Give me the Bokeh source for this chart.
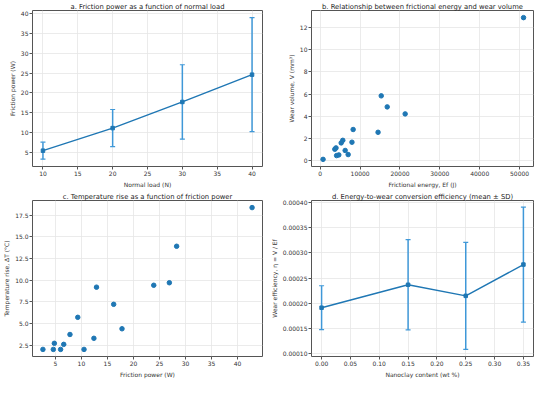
from bokeh.plotting import figure
from bokeh.layouts import gridplot
from bokeh.models import FixedTicker, PrintfTickFormatter, Range1d
from bokeh.embed import file_html
from bokeh.resources import INLINE

# Panel a
load_n = [10, 20, 30, 40]
power_mean = [5.4, 11.1, 17.7, 24.6]
power_sd = [2.15, 4.7, 9.4, 14.4]

# Panel b
energy_j = [51000, 15300, 16800, 21300, 14500, 8250, 7950, 5650, 5250, 6250, 7000, 3650, 3950, 4100, 4650, 700]
wear_mm3 = [12.86, 5.84, 4.85, 4.22, 2.57, 2.82, 1.68, 1.85, 1.62, 0.94, 0.57, 1.05, 1.17, 0.48, 0.54, 0.14]

# Panel c
fric_power_w = [42.8, 28.3, 26.9, 23.9, 12.9, 16.2, 9.3, 17.8, 7.8, 12.4, 4.8, 6.6, 2.6, 4.6, 6.0, 10.5]
temp_rise_c = [18.38, 13.92, 9.71, 9.42, 9.20, 7.22, 5.72, 4.40, 3.74, 3.30, 2.72, 2.60, 2.02, 2.02, 2.02, 2.02]

# Panel d
clay_wt = [0.00, 0.15, 0.25, 0.35]
eff_mean = [0.0001915, 0.000237, 0.000215, 0.000277]
eff_sd = [0.0000435, 0.0000895, 0.000106, 0.000114]

BLUE = "#1f77b4"
ERR = "#3f98d8"
FONT = "DejaVu Sans"


def make_fig(title, xlabel, ylabel, xr, yr, xticks, yticks, xfmt=None, yfmt=None):
    p = figure(width=267, height=190, output_backend="svg", toolbar_location=None,
               x_range=Range1d(*xr), y_range=Range1d(*yr),
               min_border_left=2, min_border_right=5, min_border_top=1, min_border_bottom=1)
    p.title.text = title
    p.title.align = "center"
    p.title.text_font = FONT
    p.title.text_font_size = "6.8px"
    p.title.text_font_style = "normal"
    p.title.text_color = "#222222"
    p.title.standoff = 0
    p.outline_line_color = "#555555"
    p.outline_line_width = 1
    p.background_fill_color = "white"
    p.border_fill_color = "white"
    for ax, lab, ticks, fmt in ((p.xaxis[0], xlabel, xticks, xfmt), (p.yaxis[0], ylabel, yticks, yfmt)):
        ax.axis_label = lab
        ax.axis_label_text_font = FONT
        ax.axis_label_text_font_size = "6px"
        ax.axis_label_text_font_style = "normal"
        ax.axis_label_text_color = "#333333"
        ax.axis_label_standoff = 2
        ax.major_label_text_font = FONT
        ax.major_label_text_font_size = "6px"
        ax.major_label_text_color = "#333333"
        ax.major_label_standoff = 1
        ax.ticker = FixedTicker(ticks=ticks)
        ax.minor_tick_line_color = None
        ax.major_tick_out = 3
        ax.major_tick_in = 0
        ax.major_tick_line_color = "#555555"
        ax.axis_line_color = None
        if fmt:
            ax.formatter = PrintfTickFormatter(format=fmt)
    p.grid.grid_line_color = "#e6e6e6"
    p.grid.grid_line_width = 0.8
    p.grid[0].ticker = FixedTicker(ticks=xticks)
    p.grid[1].ticker = FixedTicker(ticks=yticks)
    return p


def errorbars(p, x, mean, sd, cap=5):
    lo = [m - s for m, s in zip(mean, sd)]
    hi = [m + s for m, s in zip(mean, sd)]
    p.line(x, mean, line_color=BLUE, line_width=1.4)
    p.segment(x0=x, y0=lo, x1=x, y1=hi, line_color=ERR, line_width=1.5)
    p.scatter(x, lo, marker="dash", size=cap, line_color=ERR, line_width=1.2)
    p.scatter(x, hi, marker="dash", size=cap, line_color=ERR, line_width=1.2)
    p.scatter(x, mean, marker="square", size=3.5, fill_color=BLUE, line_color=BLUE)


pa = make_fig("a. Friction power as a function of normal load", "Normal load (N)",
              "Friction power (W)", (8.5, 41.5), (1.4, 40.8),
              [10, 15, 20, 25, 30, 35, 40], [5, 10, 15, 20, 25, 30, 35, 40])
errorbars(pa, load_n, power_mean, power_sd)

pb = make_fig("b. Relationship between frictional energy and wear volume", "Frictional energy, Ef (J)",
              "Wear volume, V (mm³)", (-2200, 53500), (-0.5, 13.5),
              [0, 10000, 20000, 30000, 40000, 50000], [0, 2, 4, 6, 8, 10, 12])
pb.min_border_right = 1
pb.scatter(energy_j, wear_mm3, size=4.5, fill_color=BLUE, line_color=BLUE)

pc = make_fig("c. Temperature rise as a function of friction power", "Friction power (W)",
              "Temperature rise, ΔT (°C)", (0.6, 44.8), (1.2, 19.2),
              [5, 10, 15, 20, 25, 30, 35, 40], [2.5, 5.0, 7.5, 10.0, 12.5, 15.0, 17.5],
              yfmt="%.1f")
pc.scatter(fric_power_w, temp_rise_c, size=4.5, fill_color=BLUE, line_color=BLUE)

pd_ = make_fig("d. Energy-to-wear conversion efficiency (mean ± SD)", "Nanoclay content (wt %)",
               "Wear efficiency, η = V / Ef", (-0.0175, 0.3675), (0.0000948, 0.000404),
               [0.0, 0.05, 0.10, 0.15, 0.20, 0.25, 0.30, 0.35],
               [0.00010, 0.00015, 0.00020, 0.00025, 0.00030, 0.00035, 0.00040],
               xfmt="%.2f", yfmt="%.5f")
pd_.min_border_right = 1
errorbars(pd_, clay_wt, eff_mean, eff_sd)

grid = gridplot([[pa, pb], [pc, pd_]], toolbar_location=None)

open("out.html", "w").write(file_html(grid, INLINE))
